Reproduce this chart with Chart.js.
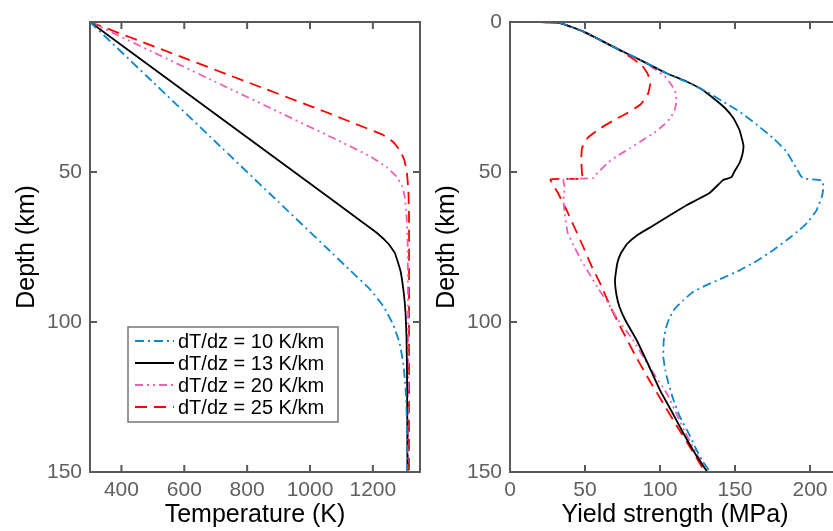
<!DOCTYPE html>
<html>
<head>
<meta charset="utf-8">
<script src="https://cdn.jsdelivr.net/npm/chart.js@4"></script>
<style>
  html, body { margin: 0; padding: 0; background: #fff; overflow: hidden; width: 833px; height: 531px; }
  .panel { position: absolute; top: 0; width: 430px; height: 531px; }
  #left { left: 0; }
  #right { left: 420px; }
</style>
</head>
<body>
<div class="panel" id="left"><canvas id="tempChart" width="430" height="531"></canvas></div>
<div class="panel" id="right"><canvas id="yieldChart" width="430" height="531"></canvas></div>
<script>
// series labels + styles
const seriesLabels = ['dT/dz = 10 K/km', 'dT/dz = 13 K/km', 'dT/dz = 20 K/km', 'dT/dz = 25 K/km'];
const seriesColors = ['#0d87cb', '#000000', '#ef5fb8', '#ff0000'];
const seriesDash = [[9, 4, 2, 4], [], [8, 4, 2, 4, 2, 4], [12, 7]];

// tick values
const depthTicks = [0, 50, 100, 150];
const tempTicks = [400, 600, 800, 1000, 1200];
const yieldTicks = [0, 50, 100, 150, 200];

// temperature (K), depth (km)
const temp10 = [[300,0],[500,20],[700,40],[900,60],[1050,75],[1130,83],[1190,89],[1235,95],[1265,101],[1285,107],[1297,114],[1304,122],[1308,132],[1309,141],[1309,150]];
const temp13 = [[300,0],[560,20],[820,40],[1080,60],[1170,67],[1215,70.5],[1250,74],[1270,77],[1288,83],[1298,90],[1304,97],[1307,105],[1309,120],[1310,150]];
const temp20 = [[300,0],[500,10],[700,20],[900,30],[1100,40],[1195,45],[1245,48.5],[1275,51.5],[1292,54.5],[1301,58],[1307,64],[1311,75],[1312,100],[1312,150]];
const temp25 = [[300,0],[550,10],[800,20],[1050,30],[1170,35],[1230,37.5],[1265,40],[1287,43],[1300,46],[1308,50],[1313,56],[1315,65],[1315,100],[1315,150]];

// yield strength (MPa), depth (km)
const yield10 = [[20,0],[33,0.3],[49,3.2],[71,8.8],[89,13.2],[104,17],[118,20],[131,23.2],[142,26.5],[153,29.9],[164,34],[175.6,38.8],[184,43],[191,48.8],[194,51.4],[196,52.2],[208,52.8],[209,55],[208,58],[204.4,62.7],[198,67],[193,69.3],[185,72.5],[175.6,76],[165,79.5],[153.3,82.7],[142,85.3],[131,87.7],[122,90],[115.6,92.7],[110,95.5],[106,99],[104,102],[102.5,106],[102.2,111.6],[103.5,116],[105.6,120.4],[109,126],[113.3,131.6],[119,137],[124.4,142.7],[128.5,146.5],[133.5,150]];
const yield13 = [[20,0],[33,0.3],[49,3.2],[71,8.8],[89,13.2],[104,17],[118,19.9],[128,22.5],[135.6,25.4],[143,28.5],[149,32.1],[153,36],[155.6,41],[155,44],[153,47],[150,49.5],[147.8,51.6],[145,52.2],[142,52.7],[133,57],[118,61],[108,64],[95,68],[85,71],[78,74],[74,77],[71.5,80.5],[70,86],[71,91],[73,95],[77,99.5],[84.4,106],[92,114],[100,122.7],[108,130],[115.6,137.1],[123,143.5],[131.5,150]];
const yield20 = [[20,0],[33,0.3],[49,3.2],[71,8.8],[89,13.2],[95.6,15.4],[103,18],[107,20.5],[110,23],[111,26],[110,29],[107,32],[102,34.5],[96,37],[88,39.5],[80,42.1],[72,44.5],[66,46.6],[61,49],[57,51],[55.6,52],[35.6,52.5],[36.5,55],[35.6,59.3],[36.5,64],[38.5,70.3],[43,75],[47.5,79.5],[53,84],[59,89],[65.6,93.8],[72,99.3],[82,106],[93,115],[104.7,124],[117,137],[131,150]];
const yield25 = [[20,0],[33,0.3],[49,3.2],[71,8.8],[80,11.6],[88,14.5],[92,17.5],[93.5,20.5],[92,24],[87,27.5],[78,30.4],[70,32.5],[60,35.5],[52,38.5],[48,42],[47.5,46],[48,50.5],[48.5,52.2],[27,52.5],[32,57],[38,63],[43,68.5],[48,74],[54,81],[60,87],[67,95],[75,103],[84,111.6],[93,119.5],[102,127],[111,134.5],[121,142.5],[130,150]];

const AXIS = '#595959';
const TICKTXT = '#606060';
const FONT = "'Liberation Sans', Arial, Helvetica, sans-serif";

function makeSets(list) {
  return list.map((pts, i) => ({
    label: seriesLabels[i],
    data: pts.map(p => ({ x: p[0], y: p[1] })),
    borderColor: seriesColors[i],
    borderDash: seriesDash[i],
    borderWidth: 1.8,
    showLine: true,
    pointRadius: 0,
    tension: 0.12,
    fill: false
  }));
}

// box + inward tick marks on all four sides
const frame = {
  id: 'frame',
  afterDatasetsDraw(chart) {
    const { ctx, chartArea: a, scales: { x, y } } = chart;
    const len = 7;
    ctx.save();
    ctx.strokeStyle = AXIS;
    ctx.lineWidth = 2;
    ctx.beginPath();
    x.ticks.forEach(t => {
      const px = x.getPixelForValue(t.value);
      ctx.moveTo(px, a.bottom); ctx.lineTo(px, a.bottom - len);
      ctx.moveTo(px, a.top); ctx.lineTo(px, a.top + len);
    });
    y.ticks.forEach(t => {
      const py = y.getPixelForValue(t.value);
      ctx.moveTo(a.left, py); ctx.lineTo(a.left + len, py);
      ctx.moveTo(a.right, py); ctx.lineTo(a.right - len, py);
    });
    ctx.stroke();
    ctx.strokeRect(a.left, a.top, a.right - a.left, a.bottom - a.top);
    ctx.restore();
  }
};

// legend box inside the left panel
const legendBox = {
  id: 'legendBox',
  afterDraw(chart) {
    if (chart.canvas.id !== 'tempChart') return;
    const { ctx, chartArea: a } = chart;
    const bx = a.left + 38, by = a.top + 305, bw = 210, bh = 95;
    ctx.save();
    ctx.fillStyle = '#fff';
    ctx.fillRect(bx, by, bw, bh);
    ctx.strokeStyle = '#767676';
    ctx.lineWidth = 1.5;
    ctx.strokeRect(bx, by, bw, bh);
    ctx.font = '20px ' + FONT;
    ctx.textBaseline = 'middle';
    chart.data.datasets.forEach((ds, i) => {
      const ry = by + 14 + i * 22;
      ctx.strokeStyle = ds.borderColor;
      ctx.lineWidth = 1.8;
      ctx.setLineDash(ds.borderDash);
      ctx.beginPath();
      ctx.moveTo(bx + 7, ry); ctx.lineTo(bx + 46, ry);
      ctx.stroke();
      ctx.setLineDash([]);
      ctx.fillStyle = '#000';
      ctx.fillText(ds.label, bx + 50, ry + 1);
    });
    ctx.restore();
  }
};

function panelOptions(xMin, xMax, xTickVals, xTitle, showZero) {
  return {
    responsive: false,
    animation: false,
    layout: { padding: { top: 22, right: 10, left: 0, bottom: 0 } },
    plugins: { legend: { display: false }, tooltip: { enabled: false } },
    scales: {
      x: {
        type: 'linear', min: xMin, max: xMax,
        grid: { display: false, drawTicks: false },
        border: { display: false },
        afterBuildTicks: s => { s.ticks = xTickVals.map(v => ({ value: v })); },
        afterFit: s => { s.height = 59; },
        ticks: { color: TICKTXT, font: { family: FONT, size: 21 }, padding: 6, maxRotation: 0, callback: v => String(v) },
        title: { display: true, text: xTitle, color: '#000', font: { family: FONT, size: 25 }, padding: { top: 0, bottom: 1 } }
      },
      y: {
        type: 'linear', min: 0, max: 150, reverse: true,
        grid: { display: false, drawTicks: false },
        border: { display: false },
        afterBuildTicks: s => { s.ticks = depthTicks.map(v => ({ value: v })); },
        afterFit: s => { s.width = 90; },
        ticks: {
          color: TICKTXT, font: { family: FONT, size: 21 }, padding: 8,
          callback: v => (v === 0 && !showZero) ? '' : String(v)
        },
        title: { display: true, text: 'Depth (km)', color: '#000', font: { family: FONT, size: 25 }, padding: { top: 12, bottom: 0 } }
      }
    }
  };
}

new Chart(document.getElementById('tempChart'), {
  type: 'scatter',
  data: { datasets: makeSets([temp10, temp13, temp20, temp25]) },
  options: panelOptions(300, 1350, tempTicks, 'Temperature (K)', false),
  plugins: [frame, legendBox]
});

new Chart(document.getElementById('yieldChart'), {
  type: 'scatter',
  data: { datasets: makeSets([yield10, yield13, yield20, yield25]) },
  options: panelOptions(0, 220, yieldTicks, 'Yield strength (MPa)', true),
  plugins: [frame]
});
</script>
</body>
</html>
